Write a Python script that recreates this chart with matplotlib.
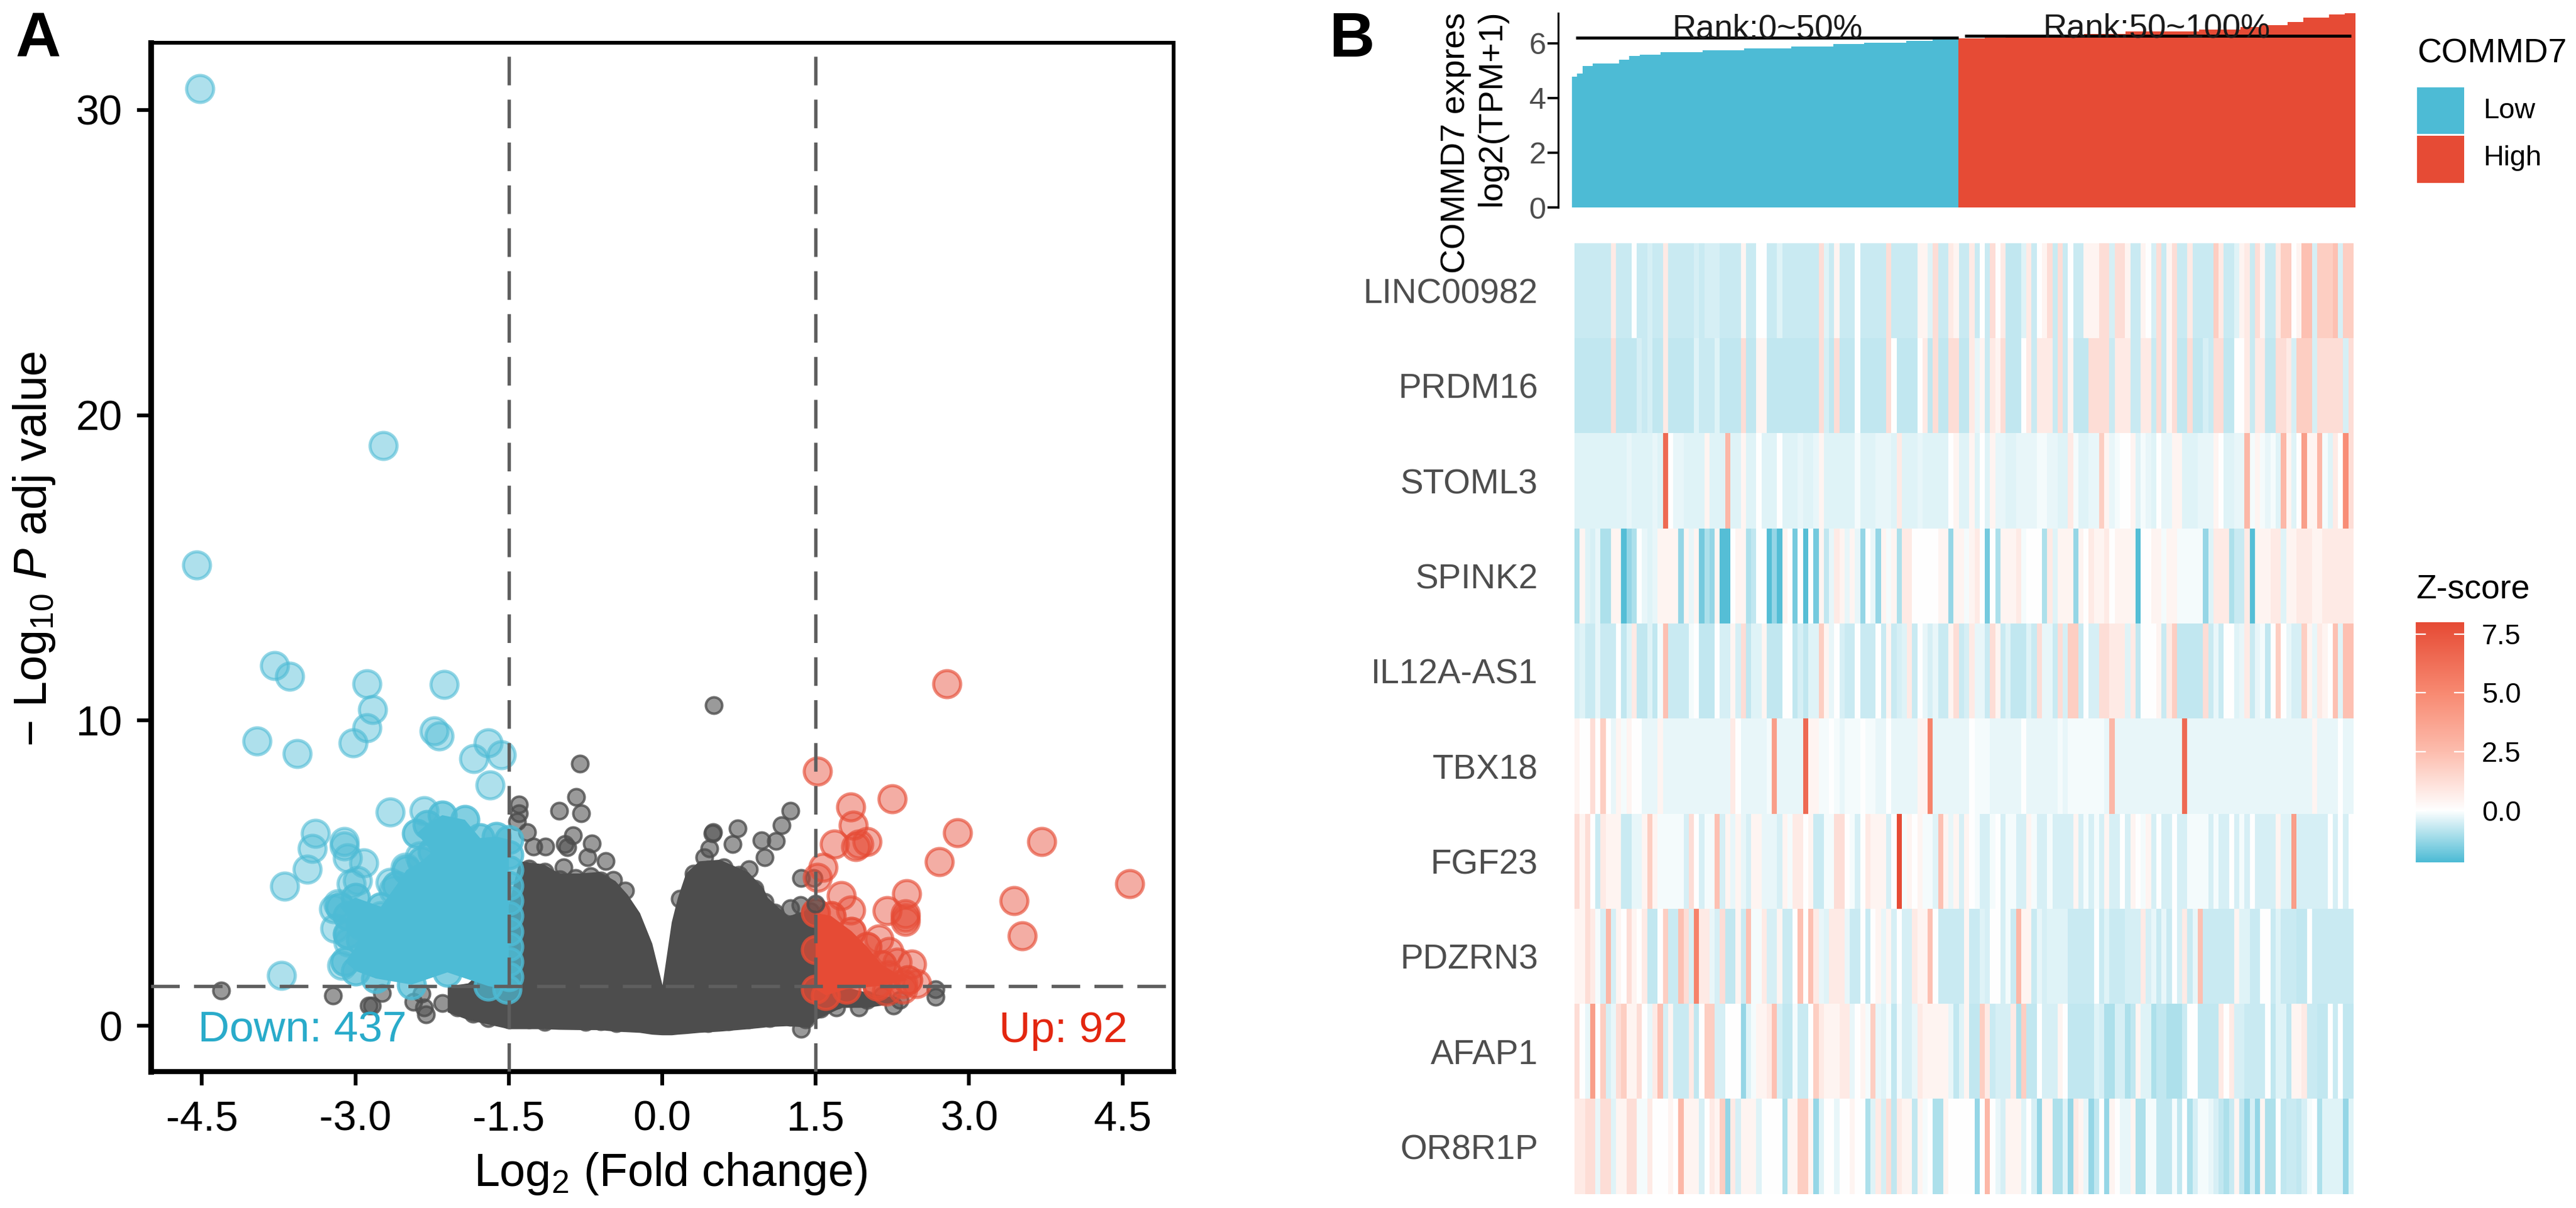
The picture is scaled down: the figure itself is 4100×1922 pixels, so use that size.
import matplotlib
matplotlib.use('Agg')
import matplotlib.pyplot as plt
import numpy as np
from matplotlib.colors import LinearSegmentedColormap, Normalize, to_rgba
from matplotlib.patches import Rectangle

plt.rcParams['font.family'] = ['Liberation Sans', 'DejaVu Sans']
plt.rcParams['mathtext.fontset'] = 'custom'
plt.rcParams['mathtext.rm'] = 'Liberation Sans'
plt.rcParams['mathtext.it'] = 'Liberation Sans:italic'
plt.rcParams['mathtext.default'] = 'rm'

W, H, DPI = 4100, 1922, 100
BLUE, RED, DARK = '#4DBBD5', '#E64B35', '#4D4D4D'

# ---------- Panel A values ----------
down_x = [-4.52,-4.55,-2.73,-3.79,-3.64,-2.89,-2.13,-2.83,-2.89,-3.02,-3.96,-3.57,-2.23,-2.18,-1.84,-1.70,-1.57,-1.68,
          -2.66,-2.33,-3.39,-3.42,-3.47,-3.69,-3.11,-3.11,-3.08,-2.92,-3.04,-2.98,-2.66,-2.63,-3.72,-3.21,-3.17,-3.13,
          -3.07,-3.07,-2.51,-2.37,-3.2,-2.95,-2.75,-2.6,-2.45]
down_y = [30.7,15.1,19.0,11.8,11.44,11.2,11.19,10.35,9.77,9.26,9.32,8.91,9.65,9.5,8.76,9.27,8.87,7.88,
          7.0,7.04,6.3,5.8,5.12,4.57,6.03,5.9,5.5,5.33,4.65,4.75,4.7,4.45,1.65,3.83,4.0,1.98,
          2.98,2.75,5.2,5.56,3.2,3.3,3.6,3.2,4.0]
down_edge_x = [-2.30,-2.15,-1.93,-1.78,-1.62,-1.5,-1.5,-1.5,-1.5,-1.5,-1.5,-1.5,-1.5,-1.5,-1.5,-1.52,-1.7,-2.1,-2.45,-2.8,
               -3.0,-3.1,-2.95,-3.08,-3.08,-3.15,-3.0,-2.75,-2.6,-2.5,-2.35,-2.25,-2.4]
down_edge_y = [6.6,6.9,6.75,6.15,6.2,6.1,5.6,5.1,4.6,4.1,3.6,3.1,2.6,2.1,1.6,1.2,1.3,1.75,1.35,1.55,
               1.8,2.1,2.8,3.0,3.6,3.9,4.2,3.9,4.6,5.1,5.4,5.7,6.3]
up_x = [2.78,1.52,2.25,1.84,1.87,2.89,3.71,1.68,1.89,2.0,1.92,2.71,1.57,1.52,4.57,1.75,2.39,3.44,1.84,2.2,2.38,2.38,
        2.38,3.52,2.12,2.22,2.44,2.30,2.49,2.21,2.10,2.35,2.35,2.19]
up_y = [11.2,8.35,7.43,7.16,6.56,6.32,6.03,5.95,5.86,6.03,5.95,5.37,5.2,4.86,4.65,4.26,4.32,4.09,3.79,3.77,3.66,3.55,
        3.43,2.94,2.84,2.43,2.02,2.08,1.38,1.67,1.38,1.38,1.2,1.13]
up_edge_x = [1.5,1.65,1.85,2.0,2.15,2.4,2.1,1.8,1.6,1.5,1.5]
up_edge_y = [3.7,3.6,3.1,2.6,2.0,1.5,1.3,1.2,1.0,1.2,2.5]
ns_x = [-.805,-.84,-1.01,-.79,-1.40,-1.4,-1.42,-1.32,-.87,-.69,-.95,-.93,-1.26,-1.14,-.73,-.55,-.965,-.48,-.36,.17,
        .50,.49,.74,.69,.97,1.11,1.17,1.25,1.0,.46,.41,.31,.85,1.36,1.48,.504,-4.31,-3.22,-2.84,-2.87,-2.74,-2.43,
        -2.31,-2.33,-2.35,2.26,2.32,2.67,2.67,1.92,1.36,1.7]
ns_y = [8.58,7.49,7.04,6.97,7.24,6.97,6.69,6.35,6.25,5.97,5.95,5.84,5.87,5.87,5.53,5.39,5.19,4.77,4.43,4.16,
        6.35,6.3,6.46,5.95,6.07,6.05,6.56,7.04,5.53,5.8,5.53,4.98,5.12,4.84,4.84,10.5,1.15,1.0,.66,.66,1.07,.78,
        .37,.6,1.05,.66,.85,1.2,.96,.6,-.1,.6]
ns_mass_x = [-2.1,-1.9,-1.7,-1.5,-1.40,-1.16,-1.01,-.81,-.615,-.46,-.34,-.22,-.10,0.0,.09,.15,.23,.36,.56,.84,.99,1.03,
             1.23,1.43,1.5,1.75,2.0,2.3]
ns_mass_top = [1.3,1.4,2,4,5.4,5.3,5.0,5.0,5.05,4.75,4.3,3.7,2.7,1.34,3.4,4.2,5.0,5.4,5.45,5.04,4.5,4.2,
               3.6,3.8,3.8,1.3,1.1,0.9]
ns_mass_low = [.45,.2,.05,-.1,-.1,-.1,-.12,-.13,-.13,-.18,-.2,-.22,-.28,-.3,-.3,-.28,-.26,-.22,-.18,-.1,-.05,-.03,
               0,-.05,.2,.6,.6,.75]
ns_rim_x = [-1.3,-1.15,-1.0,-.85,-.7,-.6,-.5,-.4,-.32,-.26,-.2,.17,.2,.25,.33,.45,.6,.75,.9,1.0,1.1,1.25,1.35,1.45]
ns_rim_y = [5.15,5.05,4.8,4.85,4.9,4.75,4.4,4.0,3.5,3.0,2.3,2.6,3.2,3.9,4.5,5.1,5.2,4.95,4.5,4.05,3.7,3.85,3.95,3.75]
ns_base_x = [-2.15,-2.0,-1.85,-1.7,-1.5,-1.3,-1.15,-.95,-.75,-.6,-.45,.45,.65,.85,1.05,1.25,1.4,1.55,1.7,1.85,2.0,2.15]
ns_base_y = [.75,.6,.4,.25,.2,.2,.12,.2,.12,.15,.08,.08,.15,.2,.25,.3,.2,.55,.85,.9,.85,1.0]
ns_over_x = [1.5]
ns_over_y = [4.0]
thresholds_x = [-1.5, 1.5]
threshold_y = 1.3
xticks = [-4.5,-3.0,-1.5,0.0,1.5,3.0,4.5]
xticklabels = ['-4.5','-3.0','-1.5','0.0','1.5','3.0','4.5']
yticks = [0,10,20,30]

# ---------- Panel B values ----------
low_levels = [4.79,4.9,5.17,5.26,5.4,5.53,5.58,5.67,5.75,5.82,5.88,5.98,6.03,6.08,6.14]
low_counts = [1,1,2,5,2,2,4,8,8,9,8,6,8,5,5]
high_levels = [6.17,6.2,6.25,6.3,6.35,6.44,6.5,6.6,6.67,6.78,6.93,7.05,7.09]
high_counts = [5,4,6,9,8,14,8,4,5,3,5,3,2]
genes = ['LINC00982','PRDM16','STOML3','SPINK2','IL12A-AS1','TBX18','FGF23','PDZRN3','AFAP1','OR8R1P']
LEVELS = dict(a=-2.1,b=-1.7,c=-1.3,d=-1.0,e=-.75,f=-.65,g=-.5,h=-.38,i=-.28,j=-.12,w=0,k=.42,l=.8,m=1.25,n=1.85,o=2.35,
              p=2.8,q=4.0,r=4.8,s=5.3,t=6.5,v=8)
row_left = [
 "f7 l1 f3 w1 f2 g1 f2 l1 f5 g1 f1 g3 f4 k1 f2 w2 f2 h1 f7 m1 h1 f1 k1 f3 w1 f5 m1 f5 k2 h1 m1 f2 l1 k1 f1",
 "e7 m1 e4 g1 f1 g1 e2 l1 e5 h1 f3 h1 e4 m1 e2 k2 e10 m1 g1 e1 m1 e3 w1 e5 m1 w1 e4 w1 l1 e1 m1 e2 m2 e1",
 "h10 i1 h4 i1 h1 t1 w1 i1 i1 h4 k1 h3 p1 h2 k1 h2 w1 h3 w1 h3 i1 h2 i1 k1 h6 j1 h3 i1 i1 i1 h1 l1 h3 i1 h5 w1 k1 h1",
 "d1 k1 h1 g1 i1 d2 k2 a1 c1 d1 w1 i1 h1 i1 k4 c1 k1 i1 k1 b1 d1 c1 k1 a2 w1 k1 k1 d1 e1 w2 a1 c1 a1 k1 w1 b1 w1 a1 w1 b1 k1 e1 i1 l1 k1 i1 k1 i1 c1 w1 i1 c1 k1 j1 k1 d1 l2 w5 k2 c1 k2 w1",
 "g1 h1 f2 i1 f3 w1 e1 h1 l1 e2 h1 e1 j1 o1 f4 j1 w1 e3 w1 g2 k1 g1 m1 e1 h2 k1 e3 w2 e1 g1 e1 h2 n1 k1 i1 w1 g1 f2 w1 f3 w1 f1 k1 f1 g1 h1 l1 f1 w1 i1 g1 i1 f2 k1 m1 f1",
 "k1 w2 m1 w1 n1 w1 i1 k1 j1 k1 w2 i3 k1 i13 l1 w1 i5 j1 q1 i5 t1 k2 j2 w1 j1 i1 j3 w1 j2 i2 w1 i5 k2 s1 i6",
 "m1 k1 m1 w1 f1 l1 k3 f2 i2 k1 n1 k1 j5 g1 m1 w1 g1 j2 o1 g1 k1 i1 k1 i1 g1 k2 i3 g1 k1 j1 l2 w1 k1 f2 j2 m2 w1 j1 g1 w1 l1 k3 g1 w1 v1 j1 k1 w1 k1 j2 h1 o1 k1 i1 k1 g1",
 "k2 m1 l1 j1 g1 p1 g1 k1 w1 m1 k1 w1 l1 e2 w1 n1 f2 o1 m1 g1 s1 l2 i1 g1 m1 e2 k1 f1 o1 j2 l1 g2 k1 f2 w1 o1 w1 o1 l1 i1 h1 l3 i1 f2 w1 f1 w1 k1 i1 k1 g1 w1 g2 l1 k2 o1 w1 f7",
 "m1 w1 i1 q1 w1 n1 g1 i1 m1 n1 k2 m1 w1 i1 l1 o1 g1 k1 f3 l1 e1 w1 n2 g2 w3 c1 h1 j1 k2 l1 o1 g1 e2 j1 f2 w1 n1 l1 k3 l2 i1 w1 k1 j1 n1 i1 h1 j1 e1 j1 g2 i1 l1 k5 i1 e1 h1",
 "l2 m2 i1 m2 h1 k2 m2 j2 l1 w3 k1 w1 p1 k3 g1 w1 l1 k1 n1 c1 l1 g1 k1 k2 h1 w4 d1 k2 n2 k1 c1 h1 w2 i1 w1 w1 k1 w2 d1 h1 l1 g1 m1 e1 l1 k2 e1 k1 j1 w1 d2 k1 w3",
]
row_right = [
 "f1 l1 f1 w1 f1 m1 w1 l1 e3 h1 l1 f1 w1 k1 m1 f1 m1 f1 w1 f2 k3 m2 g1 m2 k1 f2 k1 w1 g1 m1 f1 k1 m1 f2 l1 f4 n1 l1 f2 h1 k1 l1 f1 m1 k1 f2 l1 n2 w1 k1 o2 g1 n3 o1 g1 n2",
 "e1 l1 i1 k1 f1 l1 k1 m1 e3 w1 l1 f1 l3 f1 m1 f1 k1 e3 m4 f1 l3 f2 l2 f1 m1 f1 k1 m1 e2 m1 e2 g1 f1 m2 e2 w2 l1 f1 l2 e2 m2 l1 g1 n3 g1 m5 g1 m2",
 "h1 k1 h1 w1 h1 k1 i2 h2 i4 j2 i2 h2 l1 j1 h2 i2 n1 k1 i1 j1 w2 k1 h1 j1 i1 h1 w1 i2 k2 h3 i3 k1 w1 h2 i2 p1 j1 k1 j1 i1 j1 h1 p1 k1 h1 w1 q1 k2 p1 j1 h1 l1 w1 r1 m1",
 "j1 k1 l1 w1 b1 w1 d1 k3 l1 j1 w3 d1 l1 h1 k3 c1 k1 w1 l1 k2 l1 w1 k4 a1 w2 k2 j1 k2 j2 j3 c1 h1 l3 d1 f2 l1 a1 k3 l2 h1 k1 k1 l3 k1 k1 l7",
 "g1 l1 i2 f1 m1 k1 f1 h1 e3 h1 f1 m1 i2 f1 m1 g1 n2 f1 w1 g2 m2 l3 h1 l1 e1 w3 k1 f1 l1 n1 e5 m1 f1 i1 f1 w2 h1 i1 l1 f1 i1 j1 e1 w1 n1 w1 i1 g2 n1 k1 i1 l1 k1 w1 o1 h1 o2",
 "i1 w1 j3 i6 w1 i6 j1 i1 j4 j3 i1 p1 i13 t1 i24 k1 i4 w1 i2",
 "k1 w1 j1 g2 j1 w1 g1 j2 g2 k1 j1 g2 j1 g4 k1 g1 j1 g1 j1 g1 k1 g2 w1 g1 k1 w1 j1 k1 g1 w1 g2 w1 g2 j4 g1 j1 g2 w1 g1 j1 g1 w1 g4 k1 h2 q1 g6 w1 g1 w1 g1 w1",
 "k1 f2 h1 g1 w1 w1 g1 j1 f1 p1 k2 f1 i1 g1 h4 f5 w1 f1 h1 f3 g3 l1 g1 i1 f1 i1 f1 w1 g1 l1 f1 i1 o1 f6 k1 h2 f2 w2 f1 h1 f3 e2 w1 f8",
 "k1 e2 n1 l1 f1 g3 l1 d1 n1 e2 w1 g3 k1 w1 e2 e3 h1 g1 d2 g2 d1 e1 k1 h2 d1 e2 d3 f1 w2 e4 l1 w1 l1 g2 f4 w1 e1 h2 e1 k1 k1 l1 f2 e2 w1 f1 w1 e2",
 "w1 w1 c1 w1 p1 w1 i1 g1 k3 h1 w1 g1 c1 k2 d2 h1 c1 l1 k1 i1 c1 e1 w1 c1 k1 w1 i2 k1 d2 j2 e3 j1 e1 w1 d1 g1 j2 i1 g1 e1 d1 f1 k1 e1 c1 g1 c1 k1 d2 w1 e1 f2 e1 g1 j1 w1 d1 h4 c1 h1",
]
zmin, zmax = -2.2, 8.0
cmap_nodes = [(-2.2,BLUE),(0,'#FFFFFF'),(2.5,'#FDBDAE'),(5.0,'#F88A72'),(8.0,RED)]


def decode(run):
    out = []
    for tok in run.split():
        out += [LEVELS[tok[0]]] * int(tok[1:])
    return (out + [out[-1]] * 75)[:75]


def box(l, t, r, b):
    return [l / W, 1 - b / H, (r - l) / W, (b - t) / H]


def ftext(px, py, s, **kw):
    fig.text(px / W, 1 - py / H, s, **kw)


fig = plt.figure(figsize=(W / DPI, H / DPI), dpi=DPI)

# ---------- Panel A ----------
ax = fig.add_axes(box(240, 68, 1868, 1705))
ax.set_xlim(-5, 5)
ax.set_ylim(-1.5, 32.2)
S_BIG, S_SMALL = 960, 350
ax.fill_between(ns_mass_x, ns_mass_low, ns_mass_top, color=DARK, lw=0, zorder=1)
ax.scatter(ns_rim_x, ns_rim_y, s=S_SMALL, fc=to_rgba(DARK, .6), ec=to_rgba(DARK, .8), lw=2.9, zorder=2)
ax.scatter(ns_base_x, ns_base_y, s=S_SMALL, fc=to_rgba(DARK, .6), ec=to_rgba(DARK, .8), lw=2.9, zorder=2)
ax.scatter(ns_x, ns_y, s=S_SMALL, fc=to_rgba(DARK, .57), ec=to_rgba(DARK, .8), lw=2.9, zorder=2)
ax.fill(down_edge_x, down_edge_y, color=BLUE, lw=0, zorder=3)
ax.scatter(down_edge_x, down_edge_y, s=S_BIG, fc=to_rgba(BLUE, .7), ec=to_rgba(BLUE, .8), lw=3.6, zorder=3)
ax.scatter(down_x, down_y, s=S_BIG, fc=to_rgba(BLUE, .45), ec=to_rgba(BLUE, .6), lw=3.6, zorder=3)
ax.fill(up_edge_x, up_edge_y, color=RED, lw=0, zorder=3)
ax.scatter(up_edge_x, up_edge_y, s=S_BIG, fc=to_rgba(RED, .7), ec=to_rgba(RED, .8), lw=3.6, zorder=3)
ax.scatter(up_x, up_y, s=S_BIG, fc=to_rgba(RED, .45), ec=to_rgba(RED, .65), lw=3.6, zorder=3)
ax.scatter(ns_over_x, ns_over_y, s=S_SMALL, fc=to_rgba(DARK, .7), ec=to_rgba(DARK, .8), lw=2.9, zorder=3.5)
dash = (0, (8.4, 4.2))
for v in thresholds_x:
    ax.axvline(v, color='#5E5E5E', lw=3.9, ls=dash, zorder=4)
ax.axhline(threshold_y, color='#5E5E5E', lw=3.9, ls=dash, zorder=4)
ax.set_xticks(xticks, xticklabels)
ax.set_yticks(yticks)
ax.tick_params(axis='both', length=15.5, width=4.3, labelsize=48, color='black')
ax.tick_params(axis='x', pad=17)
ax.tick_params(axis='y', pad=17)
for side, w in dict(left=6.5, bottom=5.8, top=4.3, right=4.3).items():
    ax.spines[side].set_linewidth(w)
ax.text(-4.54, -.53, 'Down: 437', color='#29ABCA', fontsize=50, ha='left', va='baseline', zorder=5)
ax.text(4.55, -.53, 'Up: 92', color='#E3260F', fontsize=50, ha='right', va='baseline', zorder=5)
ftext(1067, 1868, r'$\mathrm{Log}_{2}\ (\mathrm{Fold\ change})$', fontsize=53, ha='center', va='center')
ftext(55, 873, r'$-\ \mathrm{Log}_{10}\ \mathit{P}\ \mathrm{adj\ value}$', fontsize=53, rotation=90, ha='center', va='center')
ftext(25, 91, 'A', fontsize=72, fontweight='bold', ha='left', va='baseline')
ftext(2115, 90, 'B', fontsize=72, fontweight='bold', ha='left', va='baseline')

# ---------- Panel B: expression bars ----------
low_vals = np.repeat(low_levels, low_counts)
high_vals = np.repeat(high_levels, high_counts)
axt = fig.add_axes(box(2502, 21, 3749, 330))
n_low = len(low_vals)
axt.bar(np.arange(n_low) + .5, low_vals, width=1.02, color=BLUE, lw=0)
axt.bar(np.arange(n_low, n_low + len(high_vals)) + .5, high_vals, width=1.02, color=RED, lw=0)
axt.set_xlim(0, 150)
axt.set_ylim(0, 7.1)
axt.set_xticks([])
axt.set_yticks([0, 2, 4, 6])
axt.tick_params(axis='y', length=12, width=2.6, labelsize=35, labelcolor=DARK, pad=2)
for s in ('top', 'right', 'bottom'):
    axt.spines[s].set_visible(False)
axt.spines['left'].set_position(('outward', 15.8))
axt.spines['left'].set_linewidth(2.2)
axt.plot([.7, 74], [6.2, 6.2], color='black', lw=3.4, clip_on=False, solid_capstyle='butt')
axt.plot([75.2, 149.2], [6.27, 6.27], color='black', lw=3.4, clip_on=False, solid_capstyle='butt')
axt.text(37.5, 6.2, 'Rank:0~50%', fontsize=38, ha='center', va='baseline', color='#1A1A1A', clip_on=False)
axt.text(112, 6.22, 'Rank:50~100%', fontsize=38, ha='center', va='baseline', color='#1A1A1A', clip_on=False)
ftext(2317, 227, 'COMMD7 expres', fontsize=38.7, rotation=90, ha='center', va='center')
ftext(2374, 172, 'log2(TPM+1)', fontsize=38.7, rotation=90, ha='center', va='center')

# ---------- Panel B: heatmap ----------
pos = [(v - zmin) / (zmax - zmin) for v, _ in cmap_nodes]
cmap = LinearSegmentedColormap.from_list('z', list(zip(pos, [c for _, c in cmap_nodes])), N=512)
norm = Normalize(zmin, zmax)
matrix = np.array([decode(a) + decode(b) for a, b in zip(row_left, row_right)])
axh = fig.add_axes(box(2506, 387, 3746, 1900))
axh.imshow(matrix, cmap=cmap, norm=norm, aspect='auto', interpolation='nearest')
axh.set_xticks([])
axh.set_yticks(np.arange(len(genes)), genes)
axh.tick_params(axis='y', length=0, labelsize=39.6, labelcolor=DARK, pad=41.8)
for s in axh.spines.values():
    s.set_visible(False)

# ---------- Legends ----------
ftext(3847, 86, 'COMMD7', fontsize=38.6, ha='left', va='center')
for (top, bot), col, lab, yc in [((139, 213), BLUE, 'Low', 177), ((216, 291), RED, 'High', 252)]:
    fig.add_artist(Rectangle((3847 / W, 1 - bot / H), 75 / W, (bot - top) / H, transform=fig.transFigure, fc=col, lw=0))
    ftext(3952, yc, lab, fontsize=32.6, ha='left', va='center')
ftext(3845, 938, 'Z-score', fontsize=38.5, ha='left', va='center')
cax = fig.add_axes(box(3845, 990, 3922, 1372))
cax.imshow(np.linspace(zmax, zmin, 256)[:, None], cmap=cmap, norm=norm, aspect='auto', extent=(0, 1, zmin, zmax))
cax.set_xticks([])
cax.yaxis.tick_right()
cax.set_yticks([0, 2.5, 5, 7.5], ['0.0', '2.5', '5.0', '7.5'])
cax.tick_params(axis='y', length=0, labelsize=32.4, pad=20)
for s in cax.spines.values():
    s.set_visible(False)
for v in (0, 2.5, 5, 7.5):
    cax.plot([0, .2], [v, v], color='white', lw=1.6)
    cax.plot([.8, 1], [v, v], color='white', lw=1.6)
cax.set_xlim(0, 1)
cax.set_ylim(zmin, zmax)

fig.savefig('out.png', dpi=DPI)
